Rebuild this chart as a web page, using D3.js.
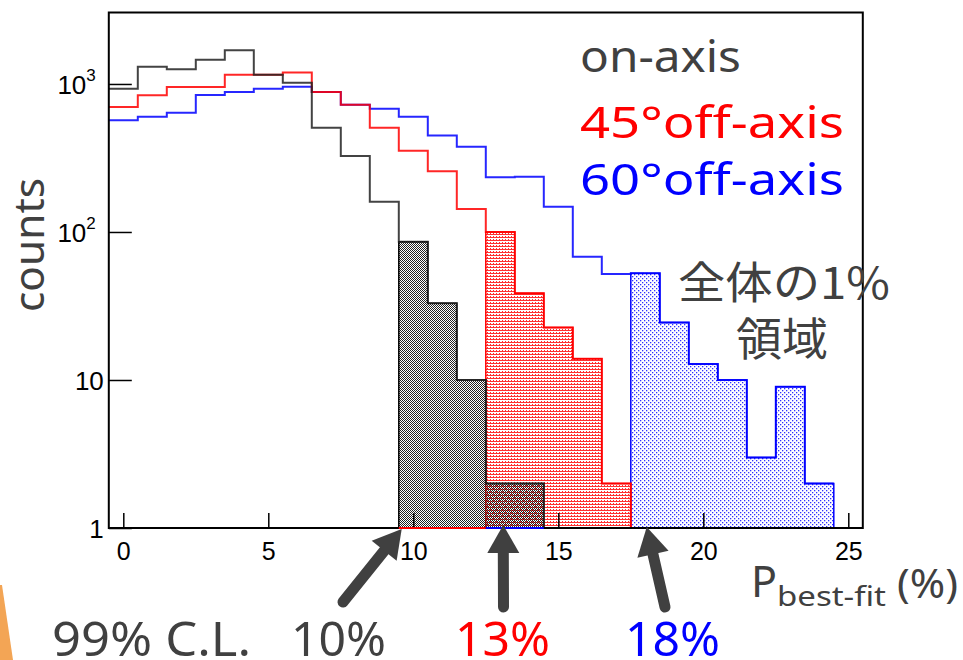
<!DOCTYPE html>
<html>
<head>
<meta charset="utf-8">
<script src="https://d3js.org/d3.v7.min.js"></script>
<style>
  body { margin: 0; background: #fff; }
  svg { display: block; }
</style>
</head>
<body>
<script>
// bin centres (width 1, from -0.5 to 24.5)
var bins = d3.range(0, 25);

// counts per bin
var onAxis = [930, 1309, 1257, 1459, 1690, 1156, 1020, 507, 326, 160, 86, 33, 10, 2, 2,
              0, 0, 0, 0, 0, 0, 0, 0, 0, 0];
var off45  = [700, 838, 955, 955, 1156, 1156, 1194, 883, 725, 507, 354, 257, 143, 100, 38.5,
              22.6, 13.9, 2, 0, 0, 0, 0, 0, 0, 0];
var off60  = [569, 601, 640, 843, 883, 930, 959, 883, 725, 681, 601, 448, 377, 234, 236,
              148, 68, 52, 52.6, 24.5, 12.8, 10, 3, 9, 2];

// bins making up the 1% tails
var onTail  = [10, 11, 12, 13, 14];
var off45Tail = [13, 14, 15, 16, 17];
var off60Tail = [18, 19, 20, 21, 22, 23, 24];
// empty tail bins drawn on the base line
var off45Empty = [10, 11, 12];
var off60Empty = [13, 14];

var seriesNames = ["on-axis", "45°off-axis", "60°off-axis"];
var cutLabels = ["10%", "13%", "18%"];
var cutValues = [9.6, 13.1, 18.05]; // where the arrows point

var xMajor = [0, 5, 10, 15, 20, 25];
var xMinor = d3.range(0, 26);
var yMajor = [1, 10, 100, 1000];

var W = 963, H = 660;
var grey = "#404040";
var cols = ["#000000", "#ff0000", "#0000ff"];

var svg = d3.select("body").append("svg").attr("width", W).attr("height", H);
svg.append("rect").attr("width", W).attr("height", H).attr("fill", "#fff");

// patterns
var defs = svg.append("defs");
var pb = defs.append("pattern").attr("id", "pBlack").attr("patternUnits", "userSpaceOnUse")
  .attr("width", 2).attr("height", 2);
pb.append("rect").attr("x", 0).attr("y", 0).attr("width", 1).attr("height", 1).attr("fill", "#222");
pb.append("rect").attr("x", 1).attr("y", 1).attr("width", 1).attr("height", 1).attr("fill", "#222");

var pr = defs.append("pattern").attr("id", "pRed").attr("patternUnits", "userSpaceOnUse")
  .attr("width", 3).attr("height", 3);
pr.append("rect").attr("width", 3).attr("height", 3).attr("fill", "#fff");
pr.append("rect").attr("width", 3).attr("height", 1).attr("fill", "#ff3030");
pr.append("rect").attr("x", 1).attr("y", 2).attr("width", 1).attr("height", 1).attr("fill", "#ff3030");

var pbl = defs.append("pattern").attr("id", "pBlue").attr("patternUnits", "userSpaceOnUse")
  .attr("width", 4).attr("height", 4);
pbl.append("rect").attr("width", 4).attr("height", 4).attr("fill", "#fff");
pbl.append("rect").attr("x", 0).attr("y", 0).attr("width", 1.3).attr("height", 1.3).attr("fill", "#3030ff");
pbl.append("rect").attr("x", 2).attr("y", 2).attr("width", 1.3).attr("height", 1.3).attr("fill", "#3030ff");

// scales
var x = d3.scaleLinear().domain([-0.5, 25.5]).range([108.8, 862.8]);
var y = d3.scaleLog().domain([1, 3040]).range([528, 12.5]);

function yv(v) { return y(Math.max(v, 1)); }

// step outline of a whole histogram
function stepPoints(vals) {
  var last = d3.max(bins.filter(function(i){ return vals[i] > 0; }));
  var pts = [];
  bins.forEach(function(i){
    if (i > last) return;
    pts.push([x(i - 0.5), yv(vals[i])]);
    pts.push([x(i + 0.5), yv(vals[i])]);
  });
  if (last < bins.length - 1) pts.push([x(last + 0.5), y(1)]);
  return pts;
}

// closed outline of a tail
function tailPoints(vals, tb) {
  var pts = [[x(tb[0] - 0.5), y(1)]];
  tb.forEach(function(i){
    pts.push([x(i - 0.5), yv(vals[i])]);
    pts.push([x(i + 0.5), yv(vals[i])]);
  });
  pts.push([x(tb[tb.length - 1] + 0.5), y(1)]);
  return pts;
}

var line = d3.line();
var g = svg.append("g");

// tail fills
g.append("path").attr("d", line(tailPoints(off60, off60Tail)) + "Z")
  .attr("fill", "url(#pBlue)").attr("stroke", cols[2]).attr("stroke-width", 1.5);
g.append("path").attr("d", line(tailPoints(off45, off45Tail)) + "Z")
  .attr("fill", "url(#pRed)").attr("stroke", cols[1]).attr("stroke-width", 1.5);
g.append("path").attr("d", line(tailPoints(onAxis, onTail)) + "Z")
  .attr("fill", "url(#pBlack)").attr("stroke", cols[0]).attr("stroke-width", 1.5);

// histogram outlines
[off60, off45, onAxis].forEach(function(vals, k){
  g.append("path").attr("d", line(stepPoints(vals)))
    .attr("fill", "none").attr("stroke", [cols[2], cols[1], "#222"][k])
    .attr("stroke-width", 2).attr("stroke-opacity", 0.85);
});

// axes (ROOT style ticks pointing inward)
var xa = svg.append("g").attr("transform", "translate(0,528)");
xa.call(d3.axisBottom(x).tickValues(xMinor).tickSize(-8).tickFormat(""));
xa.call(d3.axisBottom(x).tickValues(xMajor).tickSize(-15).tickPadding(14).tickFormat(d3.format("d")));
xa.select(".domain").remove();
xa.selectAll("line").attr("stroke", "#000").attr("stroke-width", 1.5);
xa.selectAll("text").attr("font-family", "Liberation Sans, Arial, sans-serif")
  .attr("font-size", 25).attr("fill", "#000");

var yMinor = [];
[1, 10, 100, 1000].forEach(function(d){
  d3.range(2, 10).forEach(function(k){ if (k * d < 3040) yMinor.push(k * d); });
});
var ya = svg.append("g").attr("transform", "translate(108.8,0)");
ya.call(d3.axisLeft(y).tickValues(yMinor).tickSize(-11).tickFormat(""));
ya.call(d3.axisLeft(y).tickValues(yMajor).tickSize(-23).tickPadding(5).tickFormat(""));
ya.select(".domain").remove();
ya.selectAll("line").attr("stroke", "#000").attr("stroke-width", 1.5);
ya.selectAll(".tick").filter(function(d){ return yMajor.indexOf(d) >= 0; })
  .each(function(d){
    var t = d3.select(this).select("text")
      .attr("font-family", "Liberation Sans, Arial, sans-serif")
      .attr("font-size", 26).attr("fill", "#000").attr("dy", "0.35em");
    var e = Math.round(Math.log10(d));
    if (e < 2) {
      t.text(String(d)).attr("x", -5);
    } else {
      t.attr("x", -13);
      t.append("tspan").text("10");
      t.append("tspan").text(String(e)).attr("font-size", 17).attr("dy", "-0.75em");
    }
  });

// frame
svg.append("rect").attr("x", x(-0.5)).attr("y", y(3040))
  .attr("width", x(25.5) - x(-0.5)).attr("height", y(1) - y(3040))
  .attr("fill", "none").attr("stroke", "#000").attr("stroke-width", 2);

// empty tail bins on the base line
function baseSeg(list, c) {
  svg.append("line").attr("x1", x(d3.min(list) - 0.5)).attr("x2", x(d3.max(list) + 0.5))
    .attr("y1", y(1)).attr("y2", y(1)).attr("stroke", c).attr("stroke-width", 2);
}
baseSeg(off45Empty, cols[1]);
baseSeg(off60Empty, cols[2]);

var jp = "'Noto Sans CJK JP', 'Noto Sans', sans-serif";
var lat = "'Noto Sans', 'Open Sans', sans-serif";

// legend
var legY = [72, 138, 195];
var legLen = [161, 264, 264];
var legCol = [grey, cols[1], cols[2]];
seriesNames.forEach(function(s, i){
  svg.append("text").attr("x", 580).attr("y", legY[i]).text(s)
    .attr("font-family", lat).attr("font-size", 44).attr("fill", legCol[i])
    .attr("textLength", legLen[i]).attr("lengthAdjust", "spacingAndGlyphs");
});

svg.append("text").attr("x", 678).attr("y", 299).text("全体の1%")
  .attr("font-family", jp).attr("font-size", 44).attr("fill", grey)
  .attr("textLength", 212).attr("lengthAdjust", "spacingAndGlyphs");
svg.append("text").attr("x", 736).attr("y", 356).text("領域")
  .attr("font-family", jp).attr("font-size", 45).attr("fill", grey)
  .attr("textLength", 92).attr("lengthAdjust", "spacingAndGlyphs");

// axis titles
svg.append("text").attr("transform", "translate(44,245) rotate(-90)")
  .attr("text-anchor", "middle").text("counts")
  .attr("font-family", lat).attr("font-size", 42).attr("fill", grey)
  .attr("textLength", 134).attr("lengthAdjust", "spacingAndGlyphs");

svg.append("text").attr("x", 751).attr("y", 597).text("P")
  .attr("font-family", lat).attr("font-size", 43).attr("fill", grey);
svg.append("text").attr("x", 777).attr("y", 606).text("best-fit")
  .attr("font-family", lat).attr("font-size", 28).attr("fill", grey)
  .attr("textLength", 109).attr("lengthAdjust", "spacingAndGlyphs");
svg.append("text").attr("x", 897).attr("y", 598).text("(%)")
  .attr("font-family", lat).attr("font-size", 40).attr("fill", grey)
  .attr("textLength", 61).attr("lengthAdjust", "spacingAndGlyphs");

// arrows to the 99% C.L. cut values
var tails = [[343, 602], [503.5, 607], [665, 607]];
var tipY = [529, 525, 527];
cutValues.forEach(function(v, i){
  var tx = x(v), ty = tipY[i];
  var sx = tails[i][0], sy = tails[i][1];
  var dx = tx - sx, dy = ty - sy, L = Math.sqrt(dx * dx + dy * dy);
  var ux = dx / L, uy = dy / L;
  var hl = 28, hw = 16;
  var bx = tx - ux * hl, by = ty - uy * hl;
  svg.append("line").attr("x1", sx).attr("y1", sy).attr("x2", bx + ux * 2).attr("y2", by + uy * 2)
    .attr("stroke", grey).attr("stroke-width", 11).attr("stroke-linecap", "round");
  svg.append("path").attr("d", line([[tx, ty], [bx - uy * hw, by + ux * hw], [bx + uy * hw, by - ux * hw]]) + "Z")
    .attr("fill", grey);
});

// bottom labels
svg.append("text").attr("x", 52).attr("y", 656).text("99% C.L.")
  .attr("font-family", lat).attr("font-size", 48).attr("fill", grey)
  .attr("textLength", 199).attr("lengthAdjust", "spacingAndGlyphs");
var cutX = [291, 455, 625];
var cutCol = [grey, cols[1], cols[2]];
cutLabels.forEach(function(s, i){
  svg.append("text").attr("x", cutX[i]).attr("y", 656).text(s)
    .attr("font-family", lat).attr("font-size", 48).attr("fill", cutCol[i])
    .attr("textLength", 95).attr("lengthAdjust", "spacingAndGlyphs");
});

// orange edge of the slide
svg.append("path").attr("d", line([[0, 585], [2, 585], [13, 660], [0, 660]]) + "Z")
  .attr("fill", "#f3a555");
</script>
</body>
</html>
